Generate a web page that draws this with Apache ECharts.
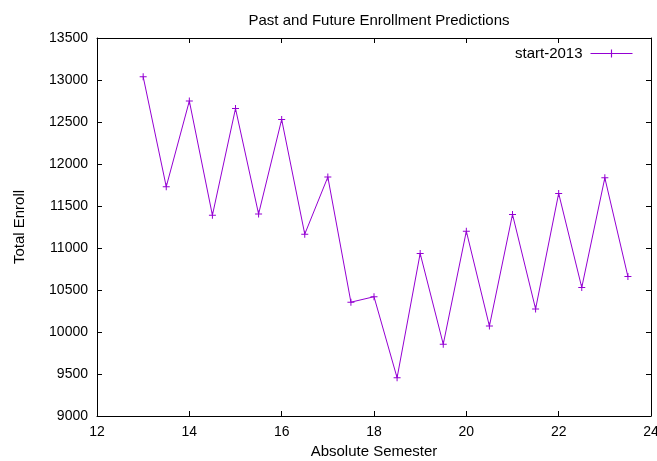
<!DOCTYPE html>
<html>
<head>
<meta charset="utf-8">
<script src="https://cdn.jsdelivr.net/npm/echarts@6/dist/echarts.min.js"></script>
<style>
  html, body { margin: 0; padding: 0; background: #fff; }
  #chart { width: 657px; height: 461px; }
</style>
</head>
<body>
<div id="chart"></div>
<script>
// Semester index (half-steps are the second term of each year)
const semesters = [13, 13.5, 14, 14.5, 15, 15.5, 16, 16.5, 17, 17.5, 18, 18.5,
                   19, 19.5, 20, 20.5, 21, 21.5, 22, 22.5, 23, 23.5];
// Total enrollment, series "start-2013"
const enrollStart2013 = [13040, 11730, 12750, 11390, 12660, 11405, 12530, 11165,
                         11845, 10355, 10420, 9455, 10935, 9855, 11200, 10070,
                         11400, 10275, 11650, 10530, 11835, 10660];

const xTicks = { min: 12, max: 24, step: 2 };
const yTicks = { min: 9000, max: 13500, step: 500 };

const FONT = '"Liberation Sans", Arial, sans-serif';
const FS = 15;       // titles, axis names, legend
const FS_TICK = 14;  // tick labels
const LINE_COLOR = '#9400d3';
const PLUS = 'path://M3,0H4V3H7V4H4V7H3V4H0V3H3Z';

const chart = echarts.init(document.getElementById('chart'), null, { renderer: 'canvas' });

const baseAxisLine = { show: true, lineStyle: { color: '#000', width: 1 } };
const baseTick = { show: true, inside: true, length: 5, lineStyle: { color: '#000', width: 1 } };
const plain = v => String(v);

chart.setOption({
  animation: false,
  backgroundColor: '#fff',
  textStyle: { fontFamily: FONT },
  title: {
    text: 'Past and Future Enrollment Predictions',
    left: 374,
    top: 8,
    textAlign: 'center',
    textStyle: { fontFamily: FONT, fontSize: FS, fontWeight: 'normal', color: '#000' }
  },
  legend: {
    data: ['start-2013'],
    right: 24,
    top: 46,
    padding: 0,
    align: 'right',
    itemWidth: 42,
    itemHeight: 10,
    itemGap: 9,
    lineStyle: { width: 1 },
    textStyle: { fontFamily: FONT, fontSize: FS, color: '#000', padding: [0, 3, 0, 0] }
  },
  grid: { left: 97, right: 6, top: 38, bottom: 45, containLabel: false, outerBoundsMode: 'none' },
  xAxis: [
    {
      type: 'value',
      position: 'bottom',
      min: xTicks.min, max: xTicks.max, interval: xTicks.step,
      name: 'Absolute Semester',
      nameLocation: 'middle',
      nameGap: 28,
      nameTextStyle: { fontFamily: FONT, fontSize: FS, color: '#000' },
      axisLine: baseAxisLine,
      axisTick: baseTick,
      splitLine: { show: false },
      axisLabel: { margin: 9, fontFamily: FONT, fontSize: FS_TICK, color: '#000', formatter: plain }
    },
    {
      type: 'value',
      position: 'top',
      min: xTicks.min, max: xTicks.max, interval: xTicks.step,
      axisLine: baseAxisLine,
      axisTick: baseTick,
      splitLine: { show: false },
      axisLabel: { show: false }
    }
  ],
  yAxis: [
    {
      type: 'value',
      position: 'left',
      min: yTicks.min, max: yTicks.max, interval: yTicks.step,
      name: 'Total Enroll',
      nameLocation: 'middle',
      nameGap: 70,
      nameRotate: 90,
      nameTextStyle: { fontFamily: FONT, fontSize: FS, color: '#000' },
      axisLine: baseAxisLine,
      axisTick: baseTick,
      splitLine: { show: false },
      axisLabel: { margin: 9, fontFamily: FONT, fontSize: FS_TICK, color: '#000', formatter: plain }
    },
    {
      type: 'value',
      position: 'right',
      min: yTicks.min, max: yTicks.max, interval: yTicks.step,
      axisLine: baseAxisLine,
      axisTick: baseTick,
      splitLine: { show: false },
      axisLabel: { show: false }
    }
  ],
  series: [
    {
      name: 'start-2013',
      type: 'line',
      xAxisIndex: 0,
      yAxisIndex: 0,
      data: semesters.map((s, i) => [s, enrollStart2013[i]]),
      symbol: PLUS,
      symbolSize: 7,
      showAllSymbol: true,
      lineStyle: { color: LINE_COLOR, width: 1 },
      itemStyle: { color: LINE_COLOR, borderWidth: 0 },
      emphasis: { disabled: true }
    }
  ]
});
</script>
</body>
</html>
